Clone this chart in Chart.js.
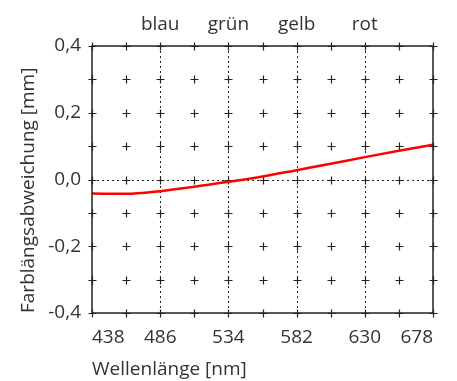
<!DOCTYPE html>
<html>
<head>
<meta charset="utf-8">
<script src="https://cdn.jsdelivr.net/npm/chart.js@4"></script>
<style>
  html, body { margin: 0; padding: 0; background: #fff; }
  #wrap { width: 457px; height: 381px; }
</style>
</head>
<body>
<div id="wrap"><canvas id="chart" width="457" height="381"></canvas></div>
<script>
// Farblängsabweichung über der Wellenlänge
const wavelengths = [438, 462, 486, 510, 534, 558, 582, 606, 630, 654, 678];
const deviation = [-0.042, -0.043, -0.035, -0.022, -0.007, 0.009, 0.028, 0.047, 0.067, 0.086, 0.104];

const xGrid = [438, 462, 486, 510, 534, 558, 582, 606, 630, 654, 678];
const yGrid = [-0.4, -0.3, -0.2, -0.1, 0, 0.1, 0.2, 0.3, 0.4];
const xDotted = [486, 534, 582, 630];
const colorNames = ['blau', 'grün', 'gelb', 'rot'];

const ink = '#222';
const textColor = '#333';
const font = { family: "'Open Sans', 'Noto Sans', sans-serif", size: 19 };

// grid crosses, dotted lines and frame with ticks crossing the border
const gridPlugin = {
  id: 'gridPlugin',
  beforeDatasetsDraw(chart) {
    const { ctx, chartArea: a, scales: { x, y } } = chart;
    ctx.save();
    ctx.strokeStyle = ink;
    ctx.lineWidth = 1;
    ctx.setLineDash([2, 3]);
    ctx.beginPath();
    xDotted.forEach(v => {
      const px = Math.round(x.getPixelForValue(v)) + 0.5;
      ctx.moveTo(px, a.top);
      ctx.lineTo(px, a.bottom);
    });
    const py0 = Math.round(y.getPixelForValue(0)) + 0.5;
    ctx.moveTo(a.left, py0);
    ctx.lineTo(a.right, py0);
    ctx.stroke();
    ctx.setLineDash([]);

    ctx.lineWidth = 1.2;
    ctx.beginPath();
    const s = 4;
    xGrid.forEach(xv => {
      yGrid.forEach(yv => {
        const px = Math.round(x.getPixelForValue(xv)) + 0.5;
        const py = Math.round(y.getPixelForValue(yv)) + 0.5;
        ctx.moveTo(px - s, py);
        ctx.lineTo(px + s, py);
        ctx.moveTo(px, py - s);
        ctx.lineTo(px, py + s);
      });
    });
    ctx.stroke();
    ctx.restore();
  },
  afterDatasetsDraw(chart) {
    const { ctx, chartArea: a } = chart;
    ctx.save();
    ctx.strokeStyle = ink;
    ctx.lineWidth = 1.5;
    ctx.strokeRect(a.left, a.top, a.right - a.left, a.bottom - a.top);
    ctx.restore();
  }
};

const chart = new Chart(document.getElementById('chart'), {
  type: 'line',
  data: {
    datasets: [{
      data: wavelengths.map((w, i) => ({ x: w, y: deviation[i] })),
      borderColor: '#ff0000',
      borderWidth: 2.5,
      pointRadius: 0,
      cubicInterpolationMode: 'monotone',
      fill: false
    }]
  },
  options: {
    responsive: false,
    animation: false,
    layout: { padding: 0 },
    plugins: {
      legend: { display: false },
      tooltip: { enabled: false }
    },
    scales: {
      x: {
        type: 'linear',
        position: 'bottom',
        min: 438,
        max: 678,
        afterFit: (scale) => { scale.height = 68; },
        grid: { display: false, drawTicks: false },
        border: { display: false },
        ticks: {
          stepSize: 48,
          padding: 13,
          align: 'inner',
          color: textColor,
          font,
          maxRotation: 0,
          autoSkip: false
        },
        title: {
          display: true,
          text: 'Wellenlänge [nm]',
          align: 'start',
          color: textColor,
          font,
          padding: { top: 0, bottom: 0 }
        }
      },
      x2: {
        type: 'linear',
        position: 'top',
        min: 438,
        max: 678,
        afterFit: (scale) => { scale.height = 46; },
        afterBuildTicks: (scale) => { scale.ticks = xDotted.map(v => ({ value: v })); },
        grid: { display: false, drawTicks: false },
        border: { display: false },
        ticks: {
          padding: 10,
          color: textColor,
          font,
          maxRotation: 0,
          autoSkip: false,
          callback: (v) => colorNames[xDotted.indexOf(v)]
        }
      },
      y: {
        min: -0.4,
        max: 0.4,
        position: 'left',
        afterFit: (scale) => { scale.width = 92; },
        grid: { display: false, drawTicks: false },
        border: { display: false },
        ticks: {
          stepSize: 0.2,
          padding: 11,
          color: textColor,
          font,
          callback: (v) => (Math.abs(v) < 1e-9 ? 0 : v).toFixed(1).replace('.', ',')
        },
        title: {
          display: true,
          text: 'Farblängsabweichung [mm]',
          align: 'start',
          color: textColor,
          font,
          padding: { top: 17, bottom: 0 }
        }
      },
      y2: {
        min: -0.4,
        max: 0.4,
        position: 'right',
        afterFit: (scale) => { scale.width = 24; },
        grid: { display: false, drawTicks: false },
        border: { display: false },
        ticks: { display: false }
      }
    }
  },
  plugins: [gridPlugin]
});
</script>
</body>
</html>
